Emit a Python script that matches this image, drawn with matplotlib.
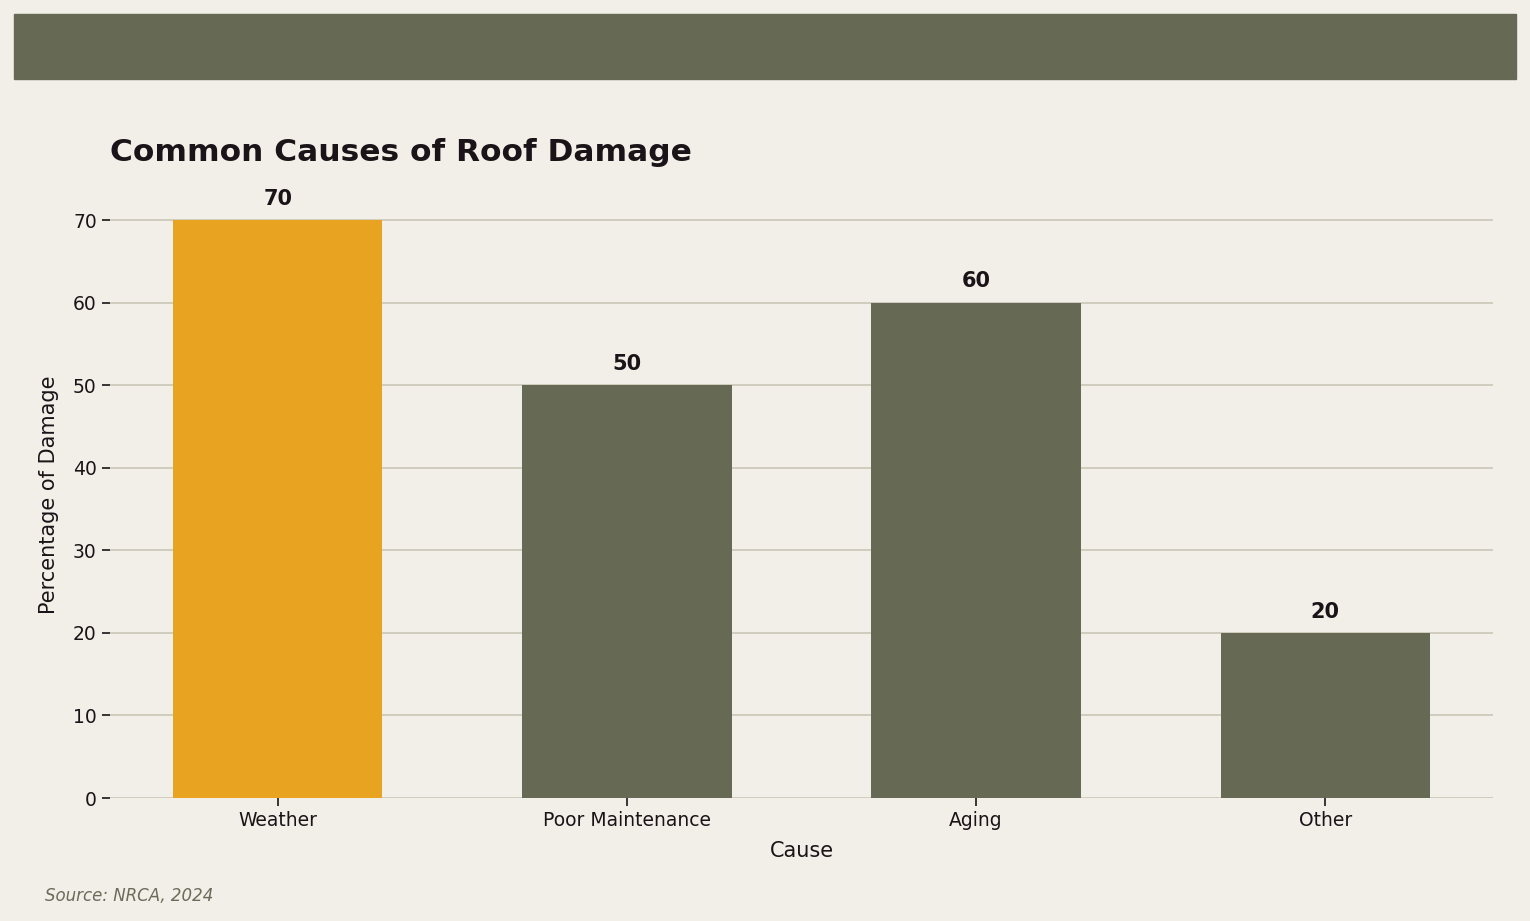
import matplotlib
matplotlib.use("Agg")
import matplotlib.pyplot as plt
from matplotlib.patches import Rectangle

plt.rcParams["font.family"] = ["DejaVu Sans"]

causes = ["Weather", "Poor Maintenance", "Aging", "Other"]
damage = [70, 50, 60, 20]
bar_colors = ["#e8a321", "#666a54", "#666a54", "#666a54"]

bg = "#f2efe8"
olive = "#666a54"
text_dark = "#1a1418"

fig = plt.figure(figsize=(15.3, 9.21), dpi=100, facecolor=bg)

# header band
fig.patches.append(Rectangle((14 / 1530, 1 - 79 / 921), 1502 / 1530, 65 / 921,
                             transform=fig.transFigure, color=olive, zorder=0))

ymax = 73.5
ax_top = 798 - ymax * (798 - 220) / 70
ax = fig.add_axes([110 / 1530, 1 - 798 / 921, (1493 - 110) / 1530, (798 - ax_top) / 921])
ax.set_facecolor(bg)

bars = ax.bar(causes, damage, width=0.6, color=bar_colors, zorder=3)
for b, v in zip(bars, damage):
    ax.annotate(f"{v}", (b.get_x() + b.get_width() / 2, v), xytext=(0, 8),
                textcoords="offset points", ha="center", va="bottom",
                fontsize=15, fontweight="bold", color=text_dark, zorder=4)

ax.set_ylim(0, ymax)
ax.set_yticks(range(0, 71, 10))
ax.grid(axis="y", color="#cdcabb", linewidth=1.3, zorder=0)
ax.set_axisbelow(True)
for s in ax.spines.values():
    s.set_visible(False)
ax.tick_params(axis="both", labelsize=13.5, colors=text_dark, length=6, width=1.2)

ax.set_xlabel("Cause", fontsize=15, color=text_dark, labelpad=8)
ax.set_ylabel("Percentage of Damage", fontsize=15, color=text_dark, labelpad=10)
ax.set_title("Common Causes of Roof Damage", loc="left", fontsize=22.5,
             fontweight="bold", color=text_dark, pad=21.5)

fig.text(45 / 1530, 1 - 896 / 921, "Source: NRCA, 2024", fontsize=12,
         style="italic", color="#6b6b5b", va="center", ha="left")

fig.savefig("out.png", dpi=100, facecolor=bg)
